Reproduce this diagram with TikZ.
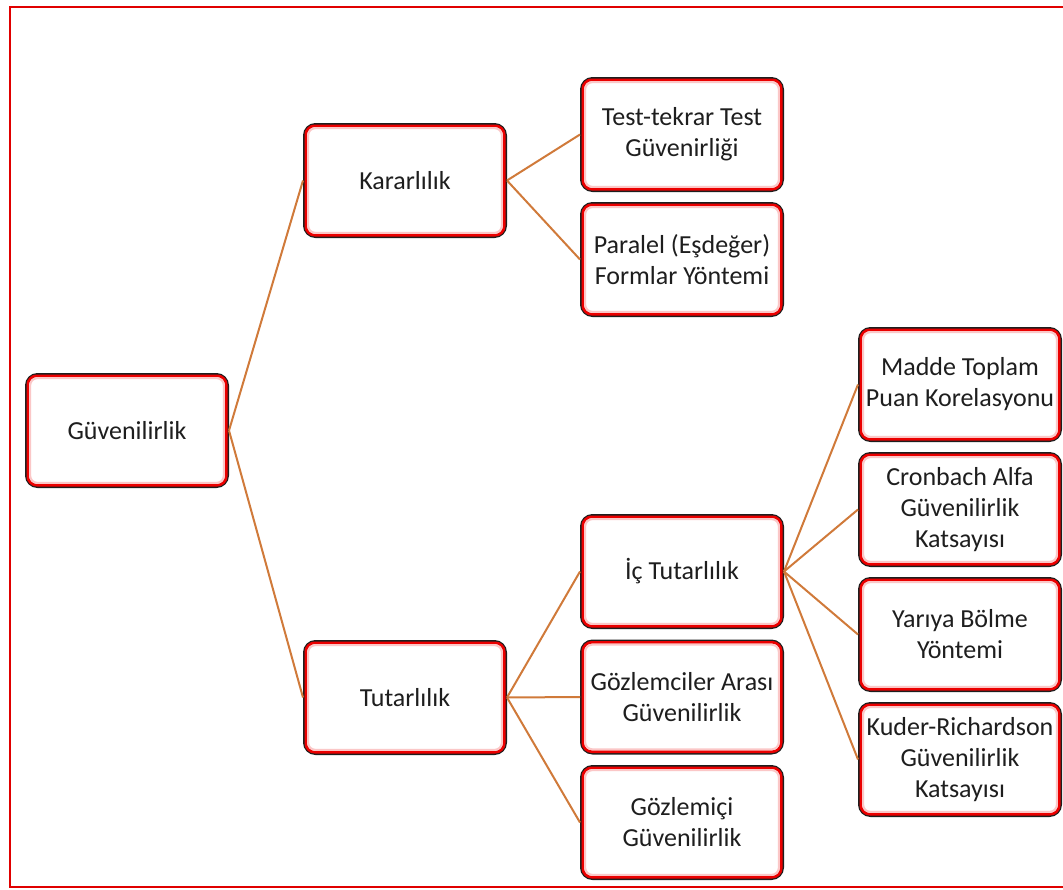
\documentclass[tikz,border=0pt]{standalone}
\usepackage{fontspec}
\setmainfont{Carlito}
\definecolor{framered}{RGB}{224,0,0}
\definecolor{boxedge}{RGB}{30,30,30}
\definecolor{ringred}{RGB}{235,0,0}
\definecolor{linkorange}{RGB}{208,122,58}
\definecolor{textgray}{RGB}{30,30,30}
\tikzset{
  box/.style={draw=boxedge, line width=3pt, rounded corners=11pt, fill=white,
    minimum width=201pt, minimum height=112pt, inner sep=0pt, align=center,
    text=textgray, font=\fontsize{26}{31}\selectfont},
  link/.style={draw=linkorange, line width=2pt},
  ring/.style={draw=ringred, line width=2.6pt, rounded corners=9pt},
  halo/.style={draw=ringred!22, line width=2pt, rounded corners=7pt},
}
\begin{document}
\begin{tikzpicture}[x=1pt, y=-1pt]
  \useasboundingbox (0,0) rectangle (1063,889);
  % outer frame (its right side runs off the page)
  \draw[framered, line width=2pt] (1070,7) -- (10,7) -- (10,887) -- (1070,887);

  % tree nodes
  \node[box] (g)  at (127,430.5) {Güvenilirlik};
  \node[box] (k)  at (405,180.5) {Kararlılık};
  \node[box] (t)  at (405,697.5) {Tutarlılık};
  \node[box] (tt) at (682,134.5) {Test-tekrar Test\\Güvenirliği};
  \node[box] (pf) at (682,259.5) {Paralel (Eşdeğer)\\Formlar Yöntemi};
  \node[box] (ic) at (682,571.5) {İç Tutarlılık};
  \node[box] (ga) at (682,697)   {Gözlemciler Arası\\Güvenilirlik};
  \node[box] (gi) at (682,822.5) {Gözlemiçi\\Güvenilirlik};
  \node[box] (mt) at (960,384.5) {Madde Toplam\\Puan Korelasyonu};
  \node[box] (ca) at (960,509.5) {Cronbach Alfa\\Güvenilirlik\\Katsayısı};
  \node[box] (yb) at (960,634.5) {Yarıya Bölme\\Yöntemi};
  \node[box] (kr) at (960,759.5) {Kuder-Richardson\\Güvenilirlik\\Katsayısı};

  % red inner rim and soft pink halo of every box
  \foreach \n in {g,k,t,tt,pf,ic,ga,gi,mt,ca,yb,kr} {
    \draw[ring] ([shift={(2.8pt,2.8pt)}]\n.south west) rectangle ([shift={(-2.8pt,-2.8pt)}]\n.north east);
    \draw[halo] ([shift={(5.2pt,5.2pt)}]\n.south west) rectangle ([shift={(-5.2pt,-5.2pt)}]\n.north east);
  }

  % connectors
  \draw[link] (g.east) -- (k.west);
  \draw[link] (g.east) -- (t.west);
  \draw[link] (k.east) -- (tt.west);
  \draw[link] (k.east) -- (pf.west);
  \draw[link] (t.east) -- (ic.west);
  \draw[link] (t.east) -- (ga.west);
  \draw[link] (t.east) -- (gi.west);
  \draw[link] (ic.east) -- (mt.west);
  \draw[link] (ic.east) -- (ca.west);
  \draw[link] (ic.east) -- (yb.west);
  \draw[link] (ic.east) -- (kr.west);
\end{tikzpicture}
\end{document}
